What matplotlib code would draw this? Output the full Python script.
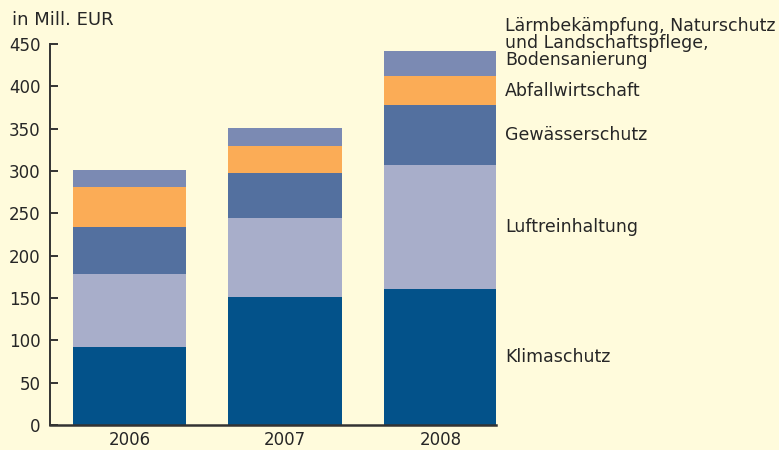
import matplotlib.pyplot as plt
import numpy as np

years = ["2006", "2007", "2008"]
categories = [
    "Klimaschutz",
    "Luftreinhaltung",
    "Gewässerschutz",
    "Abfallwirtschaft",
    "Lärmbekämpfung, Naturschutz\nund Landschaftspflege,\nBodensanierung",
]
klimaschutz = [92, 151, 161]
luftreinhaltung = [86, 93, 146]
gewaesserschutz = [56, 54, 71]
abfallwirtschaft = [47, 31, 34]
laerm_natur_boden = [20, 22, 30]

series = [klimaschutz, luftreinhaltung, gewaesserschutz, abfallwirtschaft, laerm_natur_boden]
colors = ["#03528a", "#a8aeca", "#53709f", "#fbac56", "#7b8ab3"]
bg = "#fffbdc"
txt = "#262626"

plt.rcParams["font.family"] = ["DejaVu Sans"]

fig = plt.figure(figsize=(7.79, 4.5), dpi=100, facecolor=bg)
ax = fig.add_axes([50 / 779, 1 - 425 / 450, 446 / 779, 381 / 450], facecolor=bg)

x = np.arange(len(years))
bottom = np.zeros(len(years))
mids = []
for vals, c in zip(series, colors):
    vals = np.array(vals, dtype=float)
    ax.bar(x, vals, bottom=bottom, width=0.727, color=c, linewidth=0, zorder=2)
    mids.append(bottom[-1] + vals[-1] / 2)
    bottom = bottom + vals

ax.set_xlim(-0.511, 2.357)
ax.set_ylim(0, 450)
ax.set_yticks(np.arange(0, 451, 50))
ax.set_xticks(x)
ax.set_xticklabels(years)

for s in ["top", "right"]:
    ax.spines[s].set_visible(False)
ax.spines["left"].set_color("#333333")
ax.spines["bottom"].set_color("#333333")
ax.spines["left"].set_linewidth(1.4)
ax.spines["bottom"].set_linewidth(1.8)
ax.spines["bottom"].set_zorder(3)

ax.tick_params(axis="y", direction="in", length=6, width=1.4, color="#333333",
               labelsize=12, labelcolor=txt, pad=7)
ax.tick_params(axis="x", length=0, labelsize=12, labelcolor=txt, pad=4)

# category labels next to the last bar
trans = ax.get_yaxis_transform()
for name, y in zip(categories[:-1], mids[:-1]):
    ax.text(1.02, y, name, transform=trans, ha="left", va="center",
            fontsize=12.5, color=txt, clip_on=False)
ax.text(1.02, 1.072, categories[-1], transform=ax.transAxes, ha="left", va="top",
        fontsize=12.5, color=txt, linespacing=0.95, clip_on=False)

fig.text(12 / 779, 1 - 20 / 450, "in Mill. EUR", ha="left", va="center",
         fontsize=13, color=txt)

fig.savefig("out.png", dpi=100, facecolor=bg)
